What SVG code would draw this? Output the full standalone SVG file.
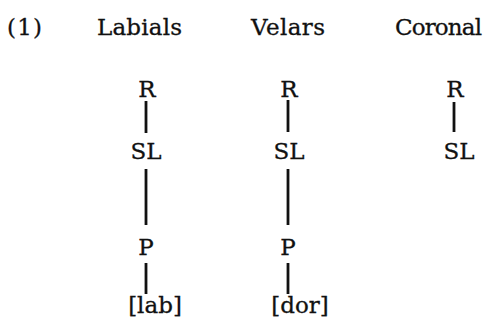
<svg xmlns="http://www.w3.org/2000/svg" width="486" height="322" viewBox="0 0 486 322">
  <style>
    text { font-family: "DejaVu Serif", "Liberation Serif", serif; font-size: 23px; fill: #111; stroke: #111; stroke-width: 0.3; }
    .c { text-anchor: middle; }
    .edge { stroke: #111; stroke-width: 2.8; stroke-linecap: butt; fill: none; }
  </style>
  <rect width="486" height="322" fill="#fff"/>

  <!-- example number and column headings -->
  <g id="heading">
    <text x="7" y="35" textLength="35">(1)</text>
    <text x="97" y="35" textLength="85">Labials</text>
    <text x="251" y="35" textLength="74">Velars</text>
    <text x="395" y="35" textLength="87">Coronal</text>
  </g>

  <!-- Labials tree -->
  <g id="lab-R"><text class="c" x="147" y="97">R</text></g>
  <g id="lab-SL"><text class="c" x="146" y="159">SL</text></g>
  <g id="lab-P"><text class="c" x="146" y="255">P</text></g>
  <g id="lab-feat"><text class="c" x="155" y="313">[lab]</text></g>

  <!-- Velars tree -->
  <g id="vel-R"><text class="c" x="289" y="97">R</text></g>
  <g id="vel-SL"><text class="c" x="289" y="159">SL</text></g>
  <g id="vel-P"><text class="c" x="288" y="255">P</text></g>
  <g id="vel-feat"><text class="c" x="300" y="313">[dor]</text></g>

  <!-- Coronal tree -->
  <g id="cor-R"><text class="c" x="455" y="97">R</text></g>
  <g id="cor-SL"><text class="c" x="459" y="159">SL</text></g>

  <!-- association lines -->
  <g id="connectors" class="edge">
    <line x1="146" y1="101" x2="146" y2="133"/>
    <line x1="146" y1="169" x2="146" y2="225"/>
    <line x1="146" y1="263" x2="146" y2="294"/>
    <line x1="288" y1="100" x2="288" y2="132"/>
    <line x1="288" y1="169" x2="288" y2="225"/>
    <line x1="288" y1="263" x2="288" y2="294"/>
    <line x1="454" y1="102" x2="454" y2="132"/>
  </g>
</svg>
